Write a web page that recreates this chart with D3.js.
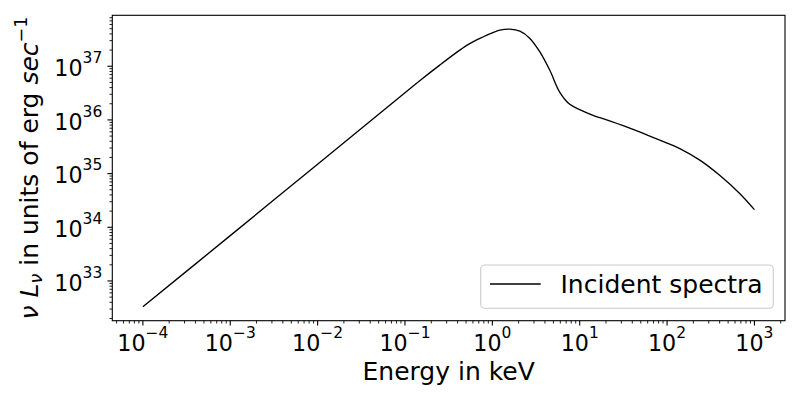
<!DOCTYPE html>
<html>
<head>
<meta charset="utf-8">
<script src="https://cdn.jsdelivr.net/npm/d3@7"></script>
<style>
  html, body { margin: 0; padding: 0; background: #fff; }
  svg { display: block; font-family: "DejaVu Sans", sans-serif; }
</style>
</head>
<body>
<svg id="chart" width="800" height="400"></svg>
<script>
// ---- data ----
const energy = [1e-4, 1e-3, 1e-2, 0.1, 0.15, 0.25, 0.42, 0.55, 0.72, 1.0, 1.22, 1.58, 2.07, 2.69, 3.5, 4.55, 5.9, 7.7, 10, 14.2, 20, 34.3, 50, 82.4, 140, 237, 400, 678, 1000];
const nuLnu  = [3.3e32, 7.0e33, 1.5e35, 3.2e36, 5.5e36, 1.05e37, 1.97e37, 2.63e37, 3.3e37, 4.2e37, 4.7e37, 4.9e37, 4.5e37, 3.3e37, 1.85e37, 8.4e36, 3.3e36, 1.95e36, 1.56e36, 1.22e36, 1.01e36, 7.4e35, 5.85e35, 4.2e35, 2.93e35, 1.78e35, 9.3e34, 4.26e34, 2.13e34];
const xMajorExps = [-4, -3, -2, -1, 0, 1, 2, 3];
const yMajorExps = [33, 34, 35, 36, 37];
const seriesName = "Incident spectra";
const xLabel = "Energy in keV";

// ---- layout ----
const L = 112.3, R = 785, T = 15.3, B = 320.7;
const svg = d3.select("#chart");
svg.append("rect").attr("width", 800).attr("height", 400).attr("fill", "#fff");

function logMargin(vals) {
  const lo = Math.log10(d3.min(vals)), hi = Math.log10(d3.max(vals));
  const m = (hi - lo) * 0.05;
  return [Math.pow(10, lo - m), Math.pow(10, hi + m)];
}
const x = d3.scaleLog().domain(logMargin(energy)).range([L, R]);
const y = d3.scaleLog().domain(logMargin(nuLnu)).range([B, T]);

function minorTicks(scale) {
  const [a, b] = scale.domain();
  const out = [];
  for (let k = Math.floor(Math.log10(a)) - 1; k <= Math.ceil(Math.log10(b)); k++) {
    for (let m = 2; m <= 9; m++) {
      const v = m * Math.pow(10, k);
      if (v >= a && v <= b) out.push(v);
    }
  }
  return out;
}

const tickColor = "#000", tw = 1.1, majLen = 4.9, minLen = 2.8;
const g = svg.append("g");

// x ticks
xMajorExps.forEach(e => {
  const px = x(Math.pow(10, e));
  g.append("line").attr("x1", px).attr("x2", px).attr("y1", B).attr("y2", B + majLen)
    .attr("stroke", tickColor).attr("stroke-width", tw);
  const t = g.append("text").attr("x", px).attr("y", B + 30.3)
    .attr("text-anchor", "middle").attr("font-size", 22.2).attr("fill", "#000");
  t.append("tspan").text("10");
  t.append("tspan").attr("dy", -13).attr("font-size", 15.5).text(String(e).replace("-", "\u2212"));
});
minorTicks(x).forEach(v => {
  const px = x(v);
  g.append("line").attr("x1", px).attr("x2", px).attr("y1", B).attr("y2", B + minLen)
    .attr("stroke", tickColor).attr("stroke-width", tw * 0.8);
});

// y ticks
yMajorExps.forEach(e => {
  const py = y(Math.pow(10, e));
  g.append("line").attr("x1", L).attr("x2", L - majLen).attr("y1", py).attr("y2", py)
    .attr("stroke", tickColor).attr("stroke-width", tw);
  const t = g.append("text").attr("x", L - 10).attr("y", py + 9.6)
    .attr("text-anchor", "end").attr("font-size", 22.2).attr("fill", "#000");
  t.append("tspan").text("10");
  t.append("tspan").attr("dy", -13).attr("font-size", 15.5).text(String(e));
});
minorTicks(y).forEach(v => {
  const py = y(v);
  g.append("line").attr("x1", L).attr("x2", L - minLen).attr("y1", py).attr("y2", py)
    .attr("stroke", tickColor).attr("stroke-width", tw * 0.8);
});

// data line
const line = d3.line()
  .x((d, i) => x(energy[i]))
  .y((d, i) => y(nuLnu[i]))
  .curve(d3.curveCatmullRom.alpha(0.5));
svg.append("path").datum(nuLnu).attr("d", line)
  .attr("fill", "none").attr("stroke", "#000").attr("stroke-width", 1.35)
  .attr("stroke-linejoin", "round");

// spines
svg.append("rect").attr("x", L).attr("y", T).attr("width", R - L).attr("height", B - T)
  .attr("fill", "none").attr("stroke", "#000").attr("stroke-width", tw);

// axis labels
svg.append("text").attr("x", (L + R) / 2).attr("y", 380)
  .attr("text-anchor", "middle").attr("font-size", 25).attr("fill", "#000").text(xLabel);

const yl = svg.append("text")
  .attr("transform", `translate(37.5,${(T + B) / 2}) rotate(-90)`)
  .attr("text-anchor", "middle").attr("font-size", 25).attr("fill", "#000");
yl.append("tspan").attr("font-style", "italic").text("\u03bd");
yl.append("tspan").text(" ");
yl.append("tspan").attr("font-style", "italic").text("L");
yl.append("tspan").attr("font-style", "italic").attr("font-size", 17.5).attr("dy", 4).text("\u03bd");
yl.append("tspan").attr("dy", -4).text(" in units of erg ");
yl.append("tspan").attr("font-style", "italic").text("sec");
yl.append("tspan").attr("font-size", 17.5).attr("dy", -11).text("\u22121");

// legend
const lg = svg.append("g");
lg.append("rect").attr("x", 480.7).attr("y", 265).attr("width", 292.6).attr("height", 43.3)
  .attr("rx", 4).attr("fill", "#fff").attr("fill-opacity", 0.8)
  .attr("stroke", "#cccccc").attr("stroke-width", 1.1);
lg.append("line").attr("x1", 490).attr("x2", 540.7).attr("y1", 284).attr("y2", 284)
  .attr("stroke", "#000").attr("stroke-width", 1.35);
lg.append("text").attr("x", 560.5).attr("y", 292.7).attr("font-size", 25).attr("fill", "#000").text(seriesName);
</script>
</body>
</html>
